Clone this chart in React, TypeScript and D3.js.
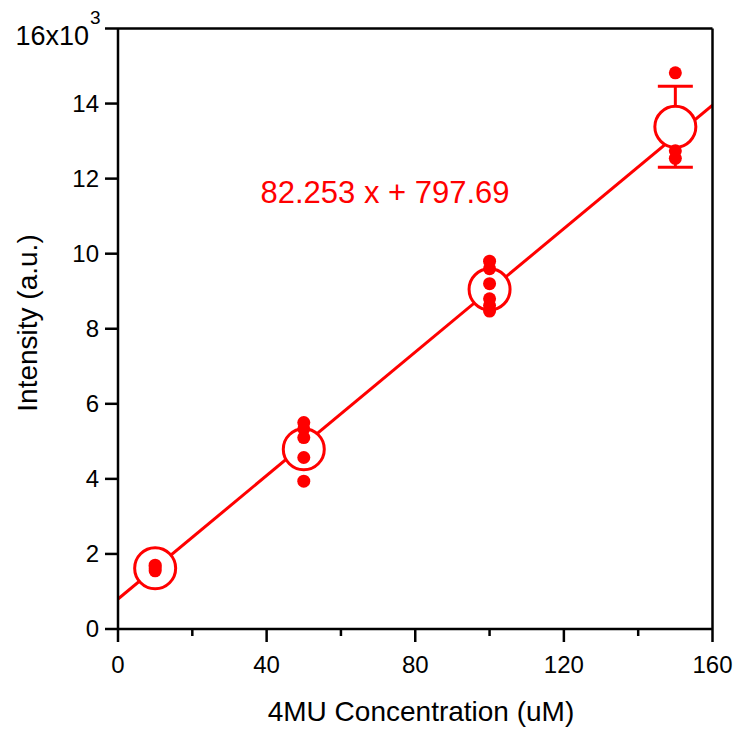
import React from "react";
import * as d3 from "d3";

// Concentrations (uM) and replicate intensities (x10^3 a.u.)
const concentrations = [10, 50, 100, 150];
const replicates: number[][] = [
  [1.55, 1.6, 1.66, 1.7],
  [5.5, 5.33, 5.1, 4.57, 3.94],
  [9.8, 9.6, 9.2, 8.8, 8.62, 8.47],
  [14.82, 12.74, 12.54],
];
const means = [1.62, 4.79, 9.05, 13.38];
const errors = [0.05, 0.25, 0.2, 1.08];

// Linear fit: intensity = slope * x + intercept (a.u.)
const slope = 82.253;
const intercept = 797.69;
const fitLabel = "82.253 x + 797.69";

const xTicks = [0, 40, 80, 120, 160];
const xMinorTicks = [20, 60, 100, 140];
const yTicks = [0, 2, 4, 6, 8, 10, 12, 14, 16];

const W = 743;
const H = 731;
const M = { left: 118, right: 712.5, top: 28.5, bottom: 629 };
const RED = "#ff0000";
const FONT = "Liberation Sans, Arial, Helvetica, sans-serif";

export default function App() {
  const x = d3.scaleLinear().domain([0, 160]).range([M.left, M.right]);
  const y = d3.scaleLinear().domain([0, 16]).range([M.bottom, M.top]);

  const fitLine = d3
    .line<number>()
    .x((d) => x(d))
    .y((d) => y((slope * d + intercept) / 1000));

  const capHalf = 17.5;

  return (
    <svg
      width={W}
      height={H}
      style={{ position: "absolute", left: 0, top: 0, background: "#fff" }}
      fontFamily={FONT}
    >
      <defs>
        <clipPath id="plotClip">
          <rect x={M.left} y={M.top} width={M.right - M.left} height={M.bottom - M.top} />
        </clipPath>
      </defs>

      {/* regression line */}
      <path
        d={fitLine([0, 160]) || ""}
        stroke={RED}
        strokeWidth={3}
        fill="none"
        clipPath="url(#plotClip)"
      />

      {/* error bars */}
      {concentrations.map((c, i) => (
        <g key={"err" + i} stroke={RED} strokeWidth={3}>
          <line x1={x(c)} x2={x(c)} y1={y(means[i] + errors[i])} y2={y(means[i] - errors[i])} />
          <line x1={x(c) - capHalf} x2={x(c) + capHalf} y1={y(means[i] + errors[i])} y2={y(means[i] + errors[i])} />
          <line x1={x(c) - capHalf} x2={x(c) + capHalf} y1={y(means[i] - errors[i])} y2={y(means[i] - errors[i])} />
        </g>
      ))}

      {/* mean markers */}
      {concentrations.map((c, i) => (
        <circle
          key={"mean" + i}
          cx={x(c)}
          cy={y(means[i])}
          r={20.5}
          fill="#fff"
          stroke={RED}
          strokeWidth={3}
        />
      ))}

      {/* replicate points */}
      {concentrations.map((c, i) =>
        replicates[i].map((v, j) => (
          <circle key={`pt${i}-${j}`} cx={x(c)} cy={y(v)} r={6.5} fill={RED} />
        ))
      )}

      {/* fit equation */}
      <text x={385} y={203} textAnchor="middle" fontSize={31} fill={RED}>
        {fitLabel}
      </text>

      {/* frame */}
      <g stroke="#000" strokeWidth={2.5} fill="none">
        <line x1={M.left} x2={M.right} y1={M.top} y2={M.top} />
        <line x1={M.right} x2={M.right} y1={M.top} y2={M.bottom} />
        <line x1={M.left} x2={M.right} y1={M.bottom} y2={M.bottom} />
        <line x1={M.left} x2={M.left} y1={M.top} y2={M.bottom} />
      </g>

      {/* ticks */}
      <g stroke="#000" strokeWidth={2.5}>
        {xTicks.map((t) => (
          <line key={"xt" + t} x1={x(t)} x2={x(t)} y1={M.bottom} y2={M.bottom + 13} />
        ))}
        {xMinorTicks.map((t) => (
          <line key={"xm" + t} x1={x(t)} x2={x(t)} y1={M.bottom} y2={M.bottom + 7} />
        ))}
        {yTicks.map((t) => (
          <line key={"yt" + t} x1={M.left - 13} x2={M.left} y1={y(t)} y2={y(t)} />
        ))}
      </g>

      {/* x tick labels */}
      {xTicks.map((t) => (
        <text key={"xl" + t} x={x(t)} y={673} textAnchor="middle" fontSize={24} fill="#000">
          {t}
        </text>
      ))}

      {/* y tick labels */}
      {yTicks.map((t) =>
        t === 16 ? (
          <text key={"yl" + t} x={89} y={45} textAnchor="end" fontSize={27} fill="#000">
            16x10
            <tspan x={90} y={24} textAnchor="start" fontSize={19}>
              3
            </tspan>
          </text>
        ) : (
          <text
            key={"yl" + t}
            x={99}
            y={y(t)}
            dy="0.35em"
            textAnchor="end"
            fontSize={24}
            fill="#000"
          >
            {t}
          </text>
        )
      )}

      {/* axis titles */}
      <text x={421} y={721} textAnchor="middle" fontSize={28} fill="#000">
        4MU Concentration (uM)
      </text>
      <text
        transform={`translate(37, 323) rotate(-90)`}
        textAnchor="middle"
        fontSize={28}
        fill="#000"
      >
        Intensity (a.u.)
      </text>
    </svg>
  );
}
